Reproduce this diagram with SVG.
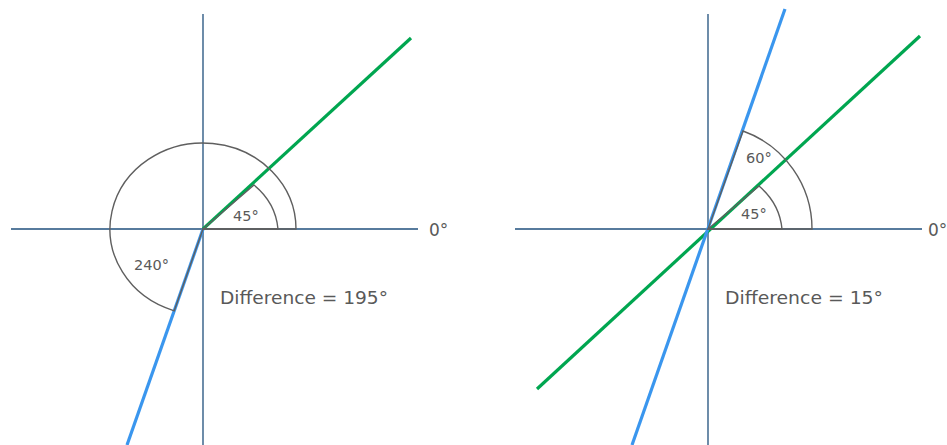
<svg xmlns="http://www.w3.org/2000/svg" width="947" height="445" viewBox="0 0 947 445">
<style>
.ax{stroke:#1f4f7c;stroke-width:1.3;fill:none}
.g{stroke:#00a650;stroke-width:3.2;fill:none}
.b{stroke:#3a96ee;stroke-width:3.2;fill:none}
.s{stroke:#5f5f5f;stroke-width:1.4;fill:none}
.t{font-family:"DejaVu Sans",Tahoma,sans-serif;fill:#595959}
</style>
<rect width="947" height="445" fill="#fff"/>
<g id="left">
<g id="left-axes">
<line class="ax" x1="11" y1="229" x2="418" y2="229"/>
<line class="ax" x1="203" y1="14" x2="203" y2="445"/>
</g>
<g id="left-lines">
<line class="g" x1="203" y1="229" x2="411" y2="38"/>
<line class="b" x1="203" y1="229" x2="127" y2="445"/>
</g>
<g id="left-sector-240">
<path class="s" d="M203 229 L296 229 A93 86 0 1 0 174.2 310.8 Z"/>
</g>
<g id="left-sector-45">
<path class="s" d="M203 229 L278 229 A75 67 0 0 0 254 185 Z"/>
</g>
<text class="t" x="233" y="221" font-size="14.5">45°</text>
<text class="t" x="134" y="270" font-size="14.5">240°</text>
<text class="t" x="429" y="236" font-size="17">0°</text>
<text class="t" x="220" y="304" font-size="18" textLength="168" lengthAdjust="spacingAndGlyphs">Difference = 195°</text>
</g>
<g id="right">
<g id="right-axes">
<line class="ax" x1="515" y1="229" x2="922" y2="229"/>
<line class="ax" x1="708" y1="14" x2="708" y2="445"/>
</g>
<g id="right-lines">
<line class="g" x1="537" y1="389" x2="920" y2="36"/>
<line class="b" x1="632" y1="445" x2="785" y2="9"/>
</g>
<g id="right-sector-60">
<path class="s" d="M708 229 L812 229 A104 104 0 0 0 743 131 Z"/>
</g>
<g id="right-sector-45">
<path class="s" d="M708 229 L782 229 A74 67 0 0 0 759 186 Z"/>
</g>
<text class="t" x="746" y="163" font-size="14.5">60°</text>
<text class="t" x="741" y="219" font-size="14.5">45°</text>
<text class="t" x="928" y="236" font-size="17">0°</text>
<text class="t" x="725" y="304" font-size="18" textLength="158" lengthAdjust="spacingAndGlyphs">Difference = 15°</text>
</g>
</svg>
